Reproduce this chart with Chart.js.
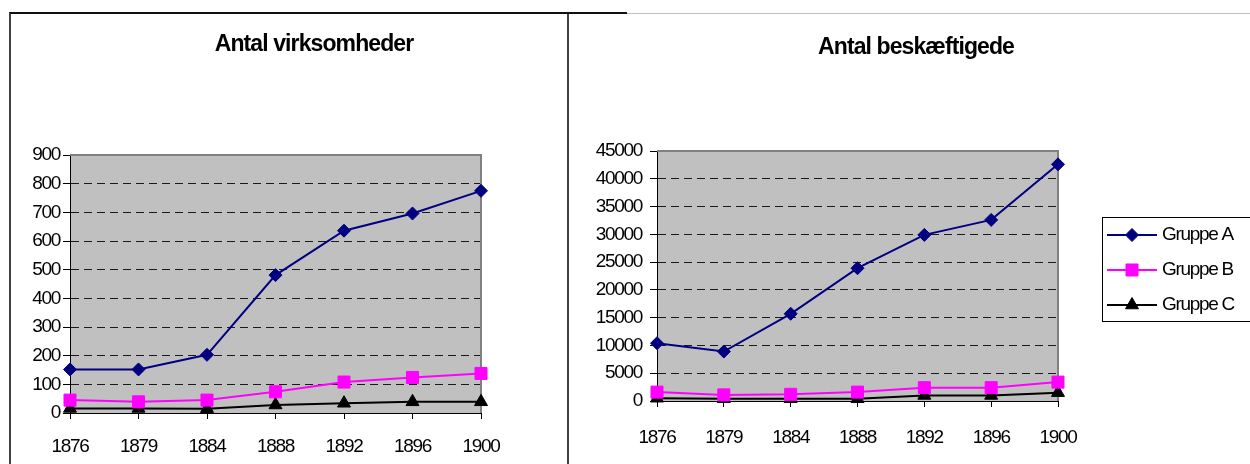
<!DOCTYPE html>
<html>
<head>
<meta charset="utf-8">
<title>Antal virksomheder og beskæftigede</title>
<script src="https://cdn.jsdelivr.net/npm/chart.js@4.4.0/dist/chart.umd.min.js"></script>
<style>
  html, body { margin: 0; padding: 0; background: #fff; overflow: hidden; }
  body { width: 1250px; height: 464px; position: relative; }
  #p1 { position: absolute; left: 9px; top: 12px; width: 618px; height: 460px; box-sizing: border-box;
        border-left: 2px solid #404040; border-top: 2px solid #111; z-index: 3; pointer-events: none; }
  #p2 { position: absolute; left: 567px; top: 13px; width: 700px; height: 460px; box-sizing: border-box;
        border-left: 2px solid #404040; border-top: 1px solid #c0c0c0; background: #fff; z-index: 1; }
  #c1 { position: absolute; left: 11px; top: 14px; z-index: 0; }
  #c2 { position: absolute; left: 569px; top: 15px; z-index: 2; }
</style>
</head>
<body>
<div id="p1"></div>
<div id="p2"></div>
<canvas id="c1" width="606" height="450"></canvas>
<canvas id="c2" width="694" height="449"></canvas>

<script>
// years on the x axis
var years = ["1876", "1879", "1884", "1888", "1892", "1896", "1900"];
var groups = ["Gruppe A", "Gruppe B", "Gruppe C"];

// Antal virksomheder
var virkA = [152, 152, 203, 481, 636, 696, 775];
var virkB = [45, 39, 45, 74, 108, 124, 138];
var virkC = [16, 16, 15, 28, 34, 39, 39];

// Antal beskæftigede
var beskA = [10400, 8900, 15700, 23900, 29900, 32600, 42600];
var beskB = [1600, 1100, 1200, 1600, 2400, 2400, 3400];
var beskC = [500, 400, 400, 400, 1000, 1000, 1500];

var colors = ["#000080", "#ff00ff", "#000000"];
var markers = ["rectRot", "rect", "triangle"];
var radii = [6.5, 8.5, 7.5];

var FONT = "'Liberation Sans', Arial, sans-serif";
Chart.defaults.font.family = FONT;
Chart.defaults.color = "#000";

// grey plot area with grey frame on top and right, like the old excel charts
const plotFrame = {
    id: "plotFrame",
    beforeDraw(chart) {
        const {ctx, chartArea: a} = chart;
        // excel text is a bit tighter than the browser's
        ctx.letterSpacing = "-1.3px";
        ctx.save();
        ctx.fillStyle = "#c0c0c0";
        ctx.fillRect(a.left, a.top, a.width, a.height);
        ctx.restore();
    },
    beforeDatasetsDraw(chart) {
        const {ctx, chartArea: a} = chart;
        ctx.save();
        ctx.strokeStyle = "#808080";
        ctx.lineWidth = 2;
        ctx.beginPath();
        ctx.moveTo(a.left, a.top);
        ctx.lineTo(a.right, a.top);
        ctx.lineTo(a.right, a.bottom);
        ctx.stroke();
        ctx.restore();
    }
};

// title centred on the whole panel, not on the plot
const panelTitle = {
    id: "panelTitle",
    afterDraw(chart, args, opts) {
        const ctx = chart.ctx;
        ctx.save();
        ctx.letterSpacing = "-0.9px";
        ctx.fillStyle = "#000";
        ctx.font = "bold 23px " + FONT;
        ctx.textAlign = "center";
        ctx.textBaseline = "middle";
        ctx.fillText(opts.text, opts.x, opts.y);
        ctx.restore();
    }
};

// boxed legend to the right, with line + marker samples
const boxLegend = {
    id: "boxLegend",
    afterDraw(chart, args, opts) {
        const ctx = chart.ctx;
        ctx.save();
        ctx.strokeStyle = "#000";
        ctx.lineWidth = 1;
        ctx.strokeRect(opts.left + 0.5, opts.top + 0.5, 300, opts.height);
        chart.data.datasets.forEach((ds, i) => {
            const y = opts.top + opts.first + i * opts.step;
            const x0 = opts.left + 5, x1 = opts.left + 55, xm = opts.left + 30;
            ctx.strokeStyle = ds.borderColor;
            ctx.fillStyle = ds.backgroundColor;
            ctx.lineWidth = 2;
            ctx.beginPath();
            ctx.moveTo(x0, y);
            ctx.lineTo(x1, y);
            ctx.stroke();
            ctx.lineWidth = 1;
            Chart.helpers.drawPoint(ctx, {pointStyle: ds.pointStyle, radius: ds.pointRadius, rotation: 0, borderWidth: 1}, xm, y);
            ctx.fillStyle = "#000";
            ctx.font = "19px " + FONT;
            ctx.textBaseline = "middle";
            ctx.fillText(ds.label, opts.left + 60, y);
        });
        ctx.restore();
    }
};

function makeSets(values) {
    return values.map((v, i) => ({
        label: groups[i],
        data: v,
        borderColor: colors[i],
        backgroundColor: colors[i],
        borderWidth: 2,
        pointStyle: markers[i],
        pointRadius: radii[i],
        pointBorderWidth: 1,
        tension: 0,
        clip: false
    }));
}

function makeChart(id, title, values, yMax, yStep, o) {
    return new Chart(id, {
        type: "line",
        data: { labels: years, datasets: makeSets(values) },
        options: {
            responsive: false,
            animation: false,
            layout: { padding: { left: 0, right: o.padRight, top: o.padTop, bottom: 0 } },
            scales: {
                x: {
                    afterFit: s => { s.height = o.xHeight; },
                    ticks: { padding: o.xPad, font: { size: 19 }, maxRotation: 0, autoSkip: false },
                    grid: { drawOnChartArea: false, tickLength: 6, color: "#000" },
                    border: { color: "#000", width: 1 }
                },
                y: {
                    min: 0,
                    max: yMax,
                    afterFit: s => { s.width = o.yWidth; },
                    ticks: { stepSize: yStep, padding: o.yPad, font: { size: 19 }, callback: v => String(v) },
                    grid: { color: "#1a1a1a", tickColor: "#000", tickLength: 7, tickBorderDash: [] },
                    border: { color: "#000", width: 1, dash: [8, 5] }
                }
            },
            plugins: {
                legend: { display: false },
                tooltip: { enabled: false },
                title: { display: false },
                panelTitle: { text: title, x: o.titleX, y: o.titleY },
                boxLegend: o.legend || false
            }
        },
        plugins: o.legend ? [plotFrame, panelTitle, boxLegend] : [plotFrame, panelTitle]
    });
}

makeChart("c1", "Antal virksomheder", [virkA, virkB, virkC], 900, 100,
    { padRight: 136, padTop: 141, xHeight: 51, xPad: 16, yWidth: 59, yPad: 3, titleX: 303, titleY: 31 });

makeChart("c2", "Antal beskæftigede", [beskA, beskB, beskC], 45000, 5000,
    { padRight: 205, padTop: 136, xHeight: 63, xPad: 19, yWidth: 88, yPad: 8, titleX: 347, titleY: 33,
      legend: { left: 533, top: 202, height: 104, first: 18, step: 35 } });
</script>
</body>
</html>
